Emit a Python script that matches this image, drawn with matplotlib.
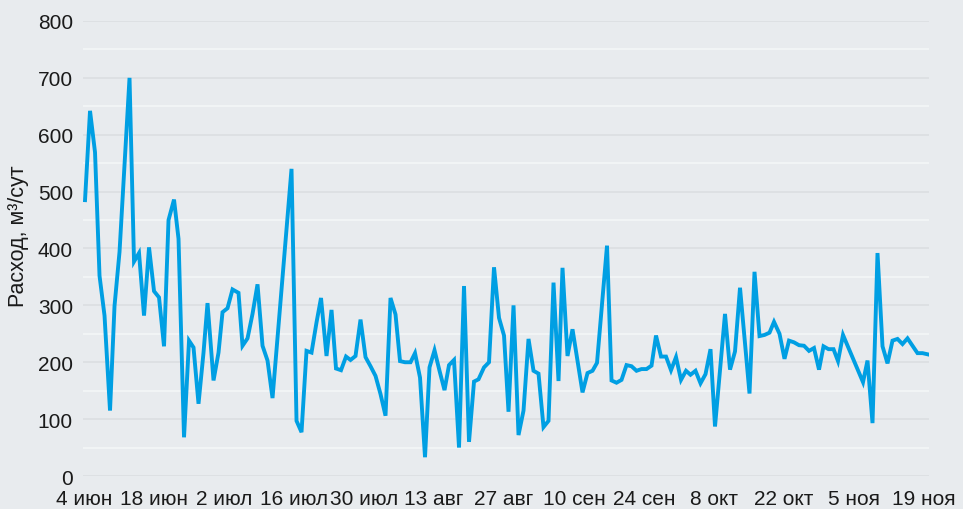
import matplotlib
matplotlib.use('Agg')
import matplotlib.pyplot as plt
import pandas as pd
import numpy as np

# days since 4 June
days = [0.2, 1.2, 2.2, 3.1, 4.1, 5.2, 6.1, 7.1, 9.1, 10.0, 11.0, 12.0, 13.0, 14.0, 15.0, 16.0,
        16.9, 18.0, 18.9, 20.0, 21.0, 21.9, 22.9, 23.9, 24.7, 25.9, 26.9, 27.7, 28.7, 29.7, 30.9,
        31.7, 32.7, 33.7, 34.7, 35.7, 36.7, 37.7, 41.5, 42.5, 43.5, 44.5, 45.5, 46.5, 47.4, 48.5,
        49.5, 50.4, 51.4, 52.4, 53.3, 54.3, 55.3, 56.3, 57.3, 58.3, 59.3, 60.3, 61.3, 62.3, 63.2,
        64.2, 65.3, 66.2, 67.2, 68.2, 69.1, 70.1, 71.1, 72.1, 73.0, 74.0, 75.0, 76.0, 77.0, 78.0,
        78.9, 80.0, 81.0, 82.0, 83.0, 84.0, 84.9, 85.9, 86.9, 87.9, 88.9, 89.9, 90.9, 91.9, 92.9,
        93.9, 94.9, 95.7, 96.7, 97.7, 98.7, 99.7, 100.7, 101.7, 102.6, 104.6, 105.5, 106.5, 107.5,
        108.5, 109.5, 110.5, 111.5, 112.5, 113.5, 114.4, 115.4, 116.4, 117.4, 118.4, 119.4, 120.4,
        121.3, 122.3, 123.3, 124.3, 125.3, 126.2, 128.2, 129.2, 130.2, 131.2, 133.1, 134.1, 135.1,
        136.1, 137.1, 138.0, 139.1, 140.1, 141.0, 142.0, 143.0, 144.0, 145.0, 146.0, 147.0, 147.9,
        148.9, 149.9, 150.8, 151.8, 155.8, 156.7, 157.7, 158.7, 159.7, 160.7, 161.7, 162.7, 163.7,
        164.7, 165.7, 166.7, 167.7, 168.7]

flow = [485, 642, 569, 352, 282, 115, 299, 394, 700, 377, 392, 282, 402, 325, 314, 228,
        450, 486, 417, 68, 238, 226, 127, 217, 304, 168, 217, 288, 295, 328, 322,
        229, 242, 285, 337, 229, 203, 137, 540, 97, 77, 220, 217, 270, 313, 211,
        292, 189, 186, 210, 204, 211, 275, 209, 193, 176, 144, 106, 313, 284, 202,
        200, 200, 216, 173, 33, 191, 221, 185, 151, 195, 204, 50, 334, 60, 166,
        170, 191, 200, 367, 278, 247, 113, 300, 72, 115, 241, 185, 180, 86, 97,
        340, 167, 366, 211, 258, 203, 147, 181, 185, 199, 405, 168, 164, 169,
        195, 193, 185, 188, 188, 194, 247, 210, 210, 186, 209, 169, 185,
        178, 185, 163, 179, 223, 87, 285, 187, 219, 331, 145, 359, 246,
        248, 252, 271, 250, 206, 238, 235, 230, 229, 220, 225, 187, 228,
        223, 223, 202, 248, 165, 203, 93, 392, 228, 198, 238, 241, 232,
        242, 229, 216, 216, 214]

months_ru = ['янв', 'фев', 'мар', 'апр', 'мая', 'июн', 'июл', 'авг', 'сен', 'окт', 'ноя', 'дек']
start = pd.Timestamp('2023-06-04')
tick_dates = pd.date_range(start, periods=13, freq='14D')
ylabel = 'Расход, м³/сут'

plt.rcParams['font.family'] = ['Liberation Sans', 'DejaVu Sans']

bg = '#e8ebee'
fig = plt.figure(figsize=(9.63, 5.10), dpi=100, facecolor=bg)
ax = fig.add_axes([0.0859, 0.0647, 0.8788, 0.8922], facecolor=bg)

x = start + pd.to_timedelta(days, unit='D')
ax.plot(x, flow, color='#009fe3', lw=2.8, solid_joinstyle='miter', zorder=3)

ax.set_ylim(0, 800)
ax.set_xlim(start - pd.Timedelta(days=0.26), start + pd.Timedelta(days=169.0))
ax.set_yticks(np.arange(0, 801, 100))
ax.set_yticks(np.arange(50, 800, 100), minor=True)
ax.grid(axis='y', which='major', color='#dcdfe2', lw=1.3, zorder=0)
ax.grid(axis='y', which='minor', color='#f3f5f6', lw=1.3, zorder=0)
ax.set_xticks(tick_dates)
ax.set_xticklabels([f'{d.day} {months_ru[d.month - 1]}' for d in tick_dates])
ax.tick_params(axis='both', which='both', length=0, labelsize=15, colors='#1a1a1a')
ax.tick_params(axis='y', pad=7)
ax.tick_params(axis='x', pad=9)
for s in ax.spines.values():
    s.set_visible(False)

ax.set_ylabel(ylabel, fontsize=15.5, color='#1a1a1a')
ax.yaxis.set_label_coords(-0.064, 0.529)

fig.savefig('out.png', dpi=100, facecolor=bg)
